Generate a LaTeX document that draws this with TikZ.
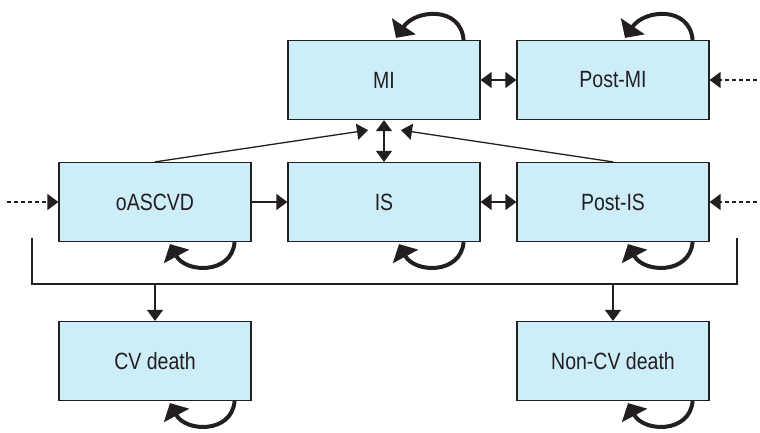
\documentclass[tikz,border=0pt]{standalone}
\usepackage{fontspec}
\setmainfont{Liberation Sans}[FakeStretch=0.83]
\usetikzlibrary{arrows.meta}
\definecolor{boxblue}{RGB}{205,237,249}
\definecolor{ink}{RGB}{35,31,32}

\begin{document}
\begin{tikzpicture}[x=1pt, y=1pt,
  statebox/.style={draw=ink, line width=1.2pt, fill=boxblue, minimum width=192pt,
    minimum height=79pt, inner sep=0pt, text=ink, font=\fontsize{23.5}{28}\selectfont},
  flow/.style={draw=ink, line width=1.3pt, -{Triangle[length=11pt,width=16pt]}},
  biflow/.style={flow, {Triangle[length=11pt,width=16pt]}-{Triangle[length=11pt,width=16pt]}},
  entry/.style={flow, dash pattern=on 4pt off 3pt},
  selfloop/.style={draw=ink, line width=4pt, -{Triangle[length=14pt,width=28pt]}, looseness=1.3}]
\useasboundingbox (0,0) rectangle (760,432);

% states
\node[statebox] (mi)     at (384,352) {MI};
\node[statebox] (postmi) at (613,352) {Post-MI};
\node[statebox] (oascvd) at (155,230) {oASCVD};
\node[statebox] (is)     at (384,230) {IS};
\node[statebox] (postis) at (613,230) {Post-IS};
\node[statebox] (cvd)    at (155,71)  {CV death};
\node[statebox] (ncvd)   at (613,71)  {Non-CV death};

% transitions between states
\draw[flow] (oascvd) -- (is);
\draw[biflow] (is) -- (postis);
\draw[biflow] (mi) -- (postmi);
\draw[biflow] (mi) -- (is);
\draw[flow] (oascvd.north) -- ([xshift=-16pt,yshift=-10pt]mi.south);
\draw[flow] (postis.north) -- ([xshift=17pt,yshift=-10pt]mi.south);

% entries from outside
\coordinate (inl)  at (7,230);
\coordinate (inr)  at (757,230);
\coordinate (inmi) at (757,352);
\draw[entry] (inl) -- (oascvd);
\draw[entry] (inr) -- (postis);
\draw[entry] (inmi) -- (postmi);

% death bus
\coordinate (busl) at (32,194);
\coordinate (busr) at (737,194);
\coordinate (bus)  at (0,148);
\draw[ink, line width=1.3pt] (busl) -- (busl |- bus) -- (busr |- bus) -- (busr);
\draw[flow] (cvd.north |- bus) -- (cvd);
\draw[flow] (ncvd.north |- bus) -- (ncvd);

% staying in a state
\foreach \s in {mi,postmi}
  \draw[selfloop] ([xshift=-17pt]\s.north east) to[out=95,in=56] ([xshift=12pt,yshift=2pt]\s.north);
\foreach \s in {oascvd,is,postis,cvd,ncvd}
  \draw[selfloop] ([xshift=-17pt]\s.south east) to[out=-95,in=-62] ([xshift=15pt,yshift=-2pt]\s.south);
\end{tikzpicture}
\end{document}
